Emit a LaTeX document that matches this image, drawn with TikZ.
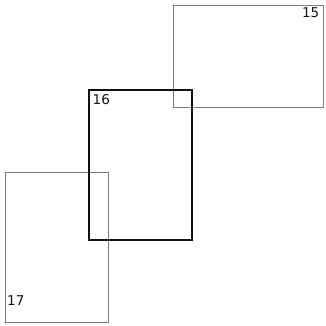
\documentclass[tikz,border=0pt]{standalone}
\usepackage{fontspec}
\setmainfont{DejaVu Sans}
\usepackage{tikz}
\usetikzlibrary{positioning,calc}
\definecolor{Frame}{HTML}{7C7C7C}
\definecolor{Ink}{HTML}{111111}

\begin{document}
\begin{tikzpicture}[
  x=1pt,y=-1pt,
  panel/.style={rectangle,draw=Frame,line width=0.95pt,inner sep=0pt},
  active/.style={rectangle,draw=Ink,line width=2pt,inner sep=0pt},
  tag/.style={inner sep=0pt,font=\fontsize{13.5}{14}\selectfont,text=Ink}
]
\useasboundingbox (0,0) rectangle (326,325);
\node[panel,minimum width=150,minimum height=102] (p15) at (248,56) {};
\node[panel,minimum width=103,minimum height=150] (p17) at (56.5,247.5) {};
\node[active,minimum width=103,minimum height=150] (p16) at (140,164.5) {};
\node[tag,anchor=north east] (t15) at ($(p15.north east)+(-4,2.5)$) {15};
\node[tag,anchor=north west] (t16) at ($(p16.north west)+(5,5.5)$) {16};
\node[tag,anchor=south west] (t17) at ($(p17.south west)+(2.5,-17)$) {17};
\end{tikzpicture}
\end{document}
